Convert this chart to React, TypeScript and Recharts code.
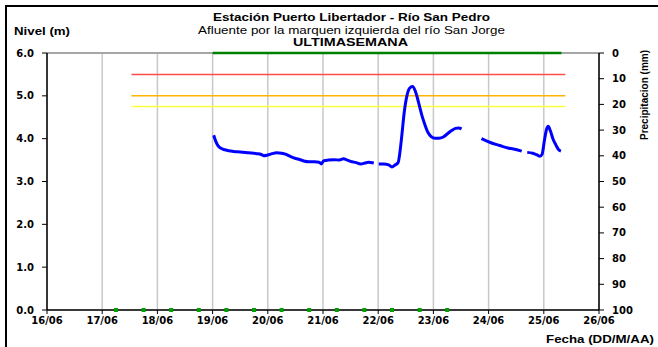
import {
  ComposedChart, Line, CartesianGrid, XAxis, YAxis, ReferenceLine,
} from 'recharts';

// time in days of June (16.0 = 16/06 00:00)
const LEVEL_T = [
  19.02, 19.06, 19.1, 19.16, 19.22, 19.3, 19.38, 19.5, 19.65, 19.8, 19.88, 19.93, 20.0, 20.08,
  20.16, 20.25, 20.32, 20.4, 20.47, 20.56, 20.65, 20.75, 20.85, 20.93, 20.97, 21.01, 21.1, 21.2,
  21.3, 21.37, 21.44, 21.5, 21.6, 21.68, 21.76, 21.82, 21.92, 21.96, 22.01, 22.1, 22.19, 22.25,
  22.3, 22.36, 22.4, 22.43, 22.47, 22.52, 22.57, 22.62, 22.67, 22.71, 22.75, 22.79, 22.84, 22.9,
  22.96, 23.03, 23.1, 23.18, 23.26, 23.33, 23.4, 23.46, 23.51, 23.7, 23.87, 24.03, 24.2, 24.35,
  24.45, 24.6, 24.65, 24.7, 24.8, 24.88, 24.93, 24.97, 25.01, 25.05, 25.08, 25.12, 25.17, 25.22,
  25.27, 25.31,
];
const LEVEL_V = [
  4.08, 3.93, 3.83, 3.77, 3.74, 3.72, 3.7, 3.69, 3.67, 3.65, 3.63, 3.6, 3.62, 3.65,
  3.67, 3.66, 3.64, 3.59, 3.55, 3.52, 3.48, 3.46, 3.46, 3.45, 3.41, 3.48, 3.5, 3.51,
  3.5, 3.53, 3.5, 3.47, 3.44, 3.41, 3.43, 3.45, 3.43, null, 3.41, 3.41, 3.39, 3.34,
  3.38, 3.44, 3.75, 4.1, 4.6, 5.0, 5.18, 5.22, 5.12, 4.95, 4.75, 4.55, 4.35, 4.15,
  4.05, 4.01, 4.01, 4.04, 4.12, 4.19, 4.24, 4.25, 4.23, null, 4.0, 3.91, 3.84, 3.78,
  3.76, 3.71, null, 3.68, 3.66, 3.62, 3.59, 3.64, 3.95, 4.22, 4.29, 4.18, 3.98, 3.85,
  3.74, 3.71,
];

const RAIN_T = [19.0, 20.0, 21.0, 22.0, 23.0, 24.0, 25.0, 25.32];
const RAIN_V = [0, 0, 0, 0, 0, 0, 0, 0];

const MANUAL_T = [17.25, 17.75, 18.25, 18.75, 19.25, 19.75, 20.25, 20.75, 21.25, 21.75, 22.25, 22.75, 23.25];
const MANUAL_V = [0, 0, 0, 0, 0, 0, 0, 0, 0, 0, 0, 0, 0];

const THRESH_FROM = 17.53;
const THRESH_TO = 25.39;
const THRESH_LEVELS = [5.5, 5.0, 4.75];
const THRESH_COLORS = ['#ff4d4d', '#ffb400', '#ffff40'];

const DAY_TICKS = [16, 17, 18, 19, 20, 21, 22, 23, 24, 25, 26];
const LEVEL_TICKS = [0, 1, 2, 3, 4, 5, 6];
const RAIN_TICKS = [0, 10, 20, 30, 40, 50, 60, 70, 80, 90, 100];

const levelData = LEVEL_T.map((t, i) => ({ t, v: LEVEL_V[i] }));
const rainData = RAIN_T.map((t, i) => ({ t, p: RAIN_V[i] }));
const manualData = MANUAL_T.map((t, i) => ({ t, m: MANUAL_V[i] }));

const TICK = { fill: '#000', fontSize: 10, fontWeight: 'bold', fontFamily: 'DejaVu Sans' };
const TEXT_FONT = 'Liberation Sans, Arial, sans-serif';

function Square(props: any) {
  const { cx, cy, index } = props;
  if (cx == null || cy == null) return <g key={index} />;
  return <rect key={index} x={cx - 2} y={cy - 2} width={4} height={4} fill="#00a000" />;
}

export default function App() {
  return (
    <div style={{ position: 'absolute', left: 0, top: 0, width: 658, height: 347, background: '#fff', overflow: 'hidden' }}>
      <ComposedChart width={658} height={347} margin={{ top: 53, right: 9, bottom: 17, left: 7 }}>
        <CartesianGrid horizontal={false} stroke="#c8c8c8" strokeWidth={1.5} />
        <CartesianGrid vertical={false} stroke="#dadada" strokeWidth={1.5} />
        <XAxis
          dataKey="t"
          type="number"
          domain={[16, 26]}
          ticks={DAY_TICKS}
          allowDataOverflow
          tickFormatter={(d: number) => `${d}/06`}
          tick={TICK}
          axisLine={{ stroke: '#000', strokeWidth: 1.5 }}
          tickLine={{ stroke: '#000' }}
          tickSize={4}
          tickMargin={3}
          height={20}
        />
        <YAxis
          yAxisId="left"
          domain={[0, 6]}
          ticks={LEVEL_TICKS}
          tickFormatter={(v: number) => v.toFixed(1)}
          tick={TICK}
          axisLine={{ stroke: '#000', strokeWidth: 1.5 }}
          tickLine={{ stroke: '#000' }}
          tickSize={5}
          tickMargin={8}
          width={40}
        />
        <YAxis
          yAxisId="right"
          orientation="right"
          domain={[0, 100]}
          reversed
          ticks={RAIN_TICKS}
          tick={TICK}
          axisLine={{ stroke: '#000', strokeWidth: 1.5 }}
          tickLine={{ stroke: '#000' }}
          tickSize={5}
          tickMargin={8}
          width={50}
        />
        <ReferenceLine yAxisId="left" y={6} stroke="#a6a6a6" strokeWidth={2} />
        {THRESH_LEVELS.map((lv, i) => (
          <ReferenceLine
            key={lv}
            yAxisId="left"
            segment={[{ x: THRESH_FROM, y: lv }, { x: THRESH_TO, y: lv }]}
            stroke={THRESH_COLORS[i]}
            strokeWidth={1.5}
          />
        ))}
        <Line
          yAxisId="right"
          data={rainData}
          dataKey="p"
          stroke="#008000"
          strokeWidth={2.5}
          dot={false}
          isAnimationActive={false}
        />
        <Line
          yAxisId="left"
          data={manualData}
          dataKey="m"
          stroke="none"
          dot={Square}
          isAnimationActive={false}
        />
        <Line
          yAxisId="left"
          data={levelData}
          dataKey="v"
          type="monotone"
          stroke="#0000ff"
          strokeWidth={3}
          dot={false}
          connectNulls={false}
          isAnimationActive={false}
        />
      </ComposedChart>
      <svg width={658} height={347} style={{ position: 'absolute', left: 0, top: 0, pointerEvents: 'none' }}>
        <text x={351.5} y={21} textAnchor="middle" fontFamily={TEXT_FONT} fontSize={10.5} fontWeight="bold"
          textLength={277} lengthAdjust="spacingAndGlyphs">Estación Puerto Libertador - Río San Pedro</text>
        <text x={351.5} y={33.5} textAnchor="middle" fontFamily={TEXT_FONT} fontSize={10.5}
          textLength={307} lengthAdjust="spacingAndGlyphs">Afluente por la marquen izquierda del río San Jorge</text>
        <text x={350.5} y={45.5} textAnchor="middle" fontFamily={TEXT_FONT} fontSize={10.5} fontWeight="bold"
          textLength={115} lengthAdjust="spacingAndGlyphs">ULTIMASEMANA</text>
        <text x={14} y={34.5} fontFamily={TEXT_FONT} fontSize={10.5} fontWeight="bold"
          textLength={56} lengthAdjust="spacingAndGlyphs">Nivel (m)</text>
        <text x={546} y={342.5} fontFamily={TEXT_FONT} fontSize={10} fontWeight="bold"
          textLength={108} lengthAdjust="spacingAndGlyphs">Fecha (DD/M/AA)</text>
        <text x={0} y={0} transform="translate(648,95) rotate(-90)" textAnchor="middle" fontFamily={TEXT_FONT}
          fontSize={10} fontWeight="bold" textLength={90} lengthAdjust="spacingAndGlyphs">Precipitacion (mm)</text>
      </svg>
      <div style={{ position: 'absolute', left: 5, top: 5, width: 660, height: 350, borderLeft: '2px solid #000', borderTop: '2px solid #000' }} />
    </div>
  );
}
